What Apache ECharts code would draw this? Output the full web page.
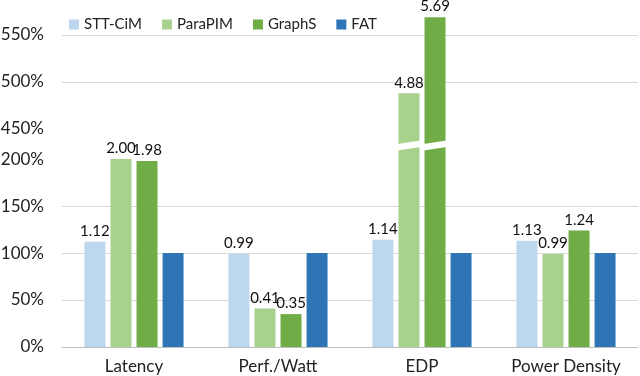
<!DOCTYPE html>
<html>
<head>
<meta charset="utf-8">
<script src="https://cdn.jsdelivr.net/npm/echarts@6/dist/echarts.min.js"></script>
<style>
  html, body { margin: 0; padding: 0; background: #fff; }
  #chart { width: 640px; height: 376px; }
</style>
</head>
<body>
<div id="chart"></div>
<script>
// categories and values (percent of FAT)
const categories = ['Latency', 'Perf./Watt', 'EDP', 'Power Density']
const sttCim = [112, 99, 114, 113]
const paraPim = [200, 41, 488, 99]
const graphS = [198, 35, 569, 124]
const fat = [100, 100, 100, 100]
// broken y axis
const breakStart = 200
const breakEnd = 450

const chart = echarts.init(document.getElementById('chart'))

const font = "Lato, 'Open Sans', sans-serif"
const barWidth = 21
const barStep = 26

function labelOf (show) {
  return {
    show: show,
    position: 'top',
    distance: 3,
    color: '#111',
    fontSize: 15,
    fontFamily: font,
    formatter: function (p) {
      return (p.value / 100).toFixed(2)
    }
  }
}

function bar (name, data, color, showLabel) {
  return {
    name: name,
    type: 'bar',
    barWidth: barWidth,
    barGap: '24%',
    clip: false,
    itemStyle: { color: color },
    label: labelOf(showLabel),
    data: data
  }
}

const seriesList = [
  bar('STT-CiM', sttCim, '#bdd7ee', true),
  bar('ParaPIM', paraPim, '#a9d18e', true),
  bar('GraphS', graphS, '#70ad47', true),
  bar('FAT', fat, '#2e75b6', false)
]

const option = {
  animation: false,
  textStyle: { fontFamily: font },
  legend: {
    left: 64,
    top: 12,
    itemWidth: 10,
    itemHeight: 10,
    itemGap: 20,
    icon: 'rect',
    textStyle: { fontSize: 15, color: '#222', fontFamily: font }
  },
  grid: {
    left: 62,
    right: 2,
    top: 35,
    bottom: 29,
    outerBoundsMode: 'none'
  },
  xAxis: {
    type: 'category',
    data: categories,
    axisTick: { show: false },
    axisLine: { lineStyle: { color: '#bfbfbf' } },
    axisLabel: { fontSize: 17, color: '#222', margin: 11, fontFamily: font }
  },
  yAxis: {
    type: 'value',
    min: 0,
    max: 550,
    interval: 50,
    breaks: [{ start: breakStart, end: breakEnd, gap: 32 }],
    breakArea: { show: false },
    axisLabel: {
      fontSize: 17,
      color: '#222',
      margin: 18,
      fontFamily: font,
      formatter: '{value}%'
    },
    splitLine: { lineStyle: { color: '#d9d9d9' } }
  },
  series: seriesList
}

chart.setOption(option)

// white slanted cut across every bar that passes through the axis break
const yA = chart.convertToPixel({ yAxisIndex: 0 }, breakStart)
const yB = chart.convertToPixel({ yAxisIndex: 0 }, breakEnd)
const yMid = (yA + yB) / 2
const cuts = []
const allData = [sttCim, paraPim, graphS, fat]
allData.forEach(function (arr, si) {
  arr.forEach(function (v, ci) {
    if (v <= breakEnd) return
    const cx = chart.convertToPixel({ xAxisIndex: 0 }, categories[ci]) + (si - 1.5) * barStep
    const x0 = cx - barWidth / 2 - 1
    const x1 = cx + barWidth / 2 + 1
    cuts.push({
      type: 'polygon',
      z: 100,
      shape: {
        points: [
          [x0, yMid + 6.5], [x1, yMid + 3],
          [x1, yMid - 3.5], [x0, yMid]
        ]
      },
      style: { fill: '#fff' }
    })
  })
})
chart.setOption({ graphic: cuts })
</script>
</body>
</html>
